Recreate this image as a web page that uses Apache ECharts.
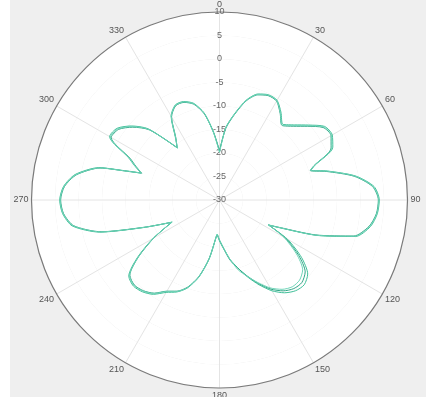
<!DOCTYPE html>
<html>
<head>
<meta charset="utf-8">
<script src="https://cdn.jsdelivr.net/npm/echarts@6/dist/echarts.min.js"></script>
<style>
html,body{margin:0;padding:0;background:#fff;}
#wrap{position:relative;width:426px;height:397px;background:#fff;overflow:hidden;}
#chart{position:absolute;left:10px;top:0;width:416px;height:397px;}
</style>
</head>
<body>
<div id="wrap"><div id="chart"></div></div>
<script>
const angles = [0,5,10,15,20,25,30,35,40,45,50,55,60,65,70,72,75,80,85,90,95,100,105,110,115,117,120,125,130,135,140,145,150,155,160,165,170,175,180,184,185,190,195,200,205,210,215,220,225,230,235,240,245,250,255,260,265,270,275,280,285,287,289,292,295,300,305,310,315,321,325,330,335,340,345,350,355,360];
const seriesA = [-19.7,-14.5,-11.3,-8.0,-6.0,-5.3,-5.5,-7.2,-9.0,-7.4,-5.2,-2.7,-2.3,-3.4,-8.4,-9.5,-6.2,-0.6,3.0,4.0,3.7,2.6,0.0,-8.0,-16.2,-18.4,-13.3,-8.7,-5.5,-4.5,-4.8,-5.9,-7.7,-10.1,-12.6,-15.1,-17.2,-19.7,-21.5,-22.7,-22.3,-17.2,-13.0,-10.1,-8.4,-7.3,-5.5,-4.5,-4.1,-4.8,-8.7,-13.7,-18.9,-12.9,-3.6,1.8,3.5,4.0,3.3,1.2,-3.4,-8.5,-12.3,-10.5,-8.6,-3.0,-3.4,-5.5,-8.6,-15.8,-13.6,-9.4,-7.7,-7.7,-8.7,-11.2,-15.5,-19.7];
const seriesB = [-19.5,-14.7,-11.5,-8.2,-6.2,-5.5,-5.7,-7.5,-9.3,-7.8,-5.6,-3.1,-2.6,-3.8,-8.6,-9.7,-6.5,-0.9,2.7,3.8,3.5,2.3,-0.4,-8.3,-16.4,-18.2,-13.8,-9.4,-6.2,-5.2,-5.4,-6.4,-8.1,-10.4,-12.8,-15.0,-17.0,-19.5,-21.3,-22.5,-22.1,-17.4,-13.2,-10.3,-8.6,-7.6,-5.8,-4.8,-4.4,-5.1,-9.0,-13.9,-18.7,-13.1,-3.9,1.5,3.3,3.8,3.1,0.9,-3.7,-8.8,-12.5,-10.8,-9.0,-3.4,-3.8,-5.9,-8.9,-15.6,-13.8,-9.6,-7.9,-7.9,-8.9,-11.4,-15.6,-19.5];
const seriesC = [-19.9,-14.6,-11.4,-8.1,-6.1,-5.4,-5.6,-7.4,-9.2,-7.6,-5.4,-2.9,-2.5,-3.6,-8.5,-9.6,-6.3,-0.7,2.8,3.9,3.6,2.4,-0.2,-8.1,-16.3,-18.3,-14.2,-10.0,-6.9,-5.9,-5.9,-6.8,-8.4,-10.6,-12.7,-14.6,-17.2,-19.6,-21.4,-22.6,-22.2,-17.3,-13.1,-10.2,-8.5,-7.5,-5.7,-4.7,-4.3,-5.0,-8.9,-13.8,-18.8,-13.0,-3.8,1.6,3.4,3.9,3.2,1.0,-3.6,-8.7,-12.4,-10.6,-8.8,-3.2,-3.6,-5.7,-8.8,-15.7,-13.7,-9.5,-7.8,-7.8,-8.8,-11.3,-15.7,-19.9];
const radiusTicks = {min:-30, max:10, step:5};
const angleTicks = {min:0, max:360, step:30};

function toPairs(vals){ return vals.map((v,i)=>[v, angles[i]]); }

const chart = echarts.init(document.getElementById('chart'));
const lineColors = ['#3fbf98','#2fa585','#6fd4b8'];
chart.setOption({
  backgroundColor:'#efefef',
  animation:false,
  polar:{center:[209.5,200], radius:188},
  angleAxis:{
    type:'value', min:angleTicks.min, max:angleTicks.max, interval:angleTicks.step,
    startAngle:90, clockwise:true,
    axisLine:{show:true, lineStyle:{color:'#7a7a7a', width:1.2}},
    axisTick:{show:false},
    axisLabel:{color:'#555', fontSize:9, fontFamily:'Liberation Sans', margin:3},
    splitLine:{show:true, lineStyle:{color:'#e4e4e4', width:1}}
  },
  radiusAxis:{
    type:'value', min:radiusTicks.min, max:radiusTicks.max, interval:radiusTicks.step,
    axisLine:{show:false}, axisTick:{show:false},
    axisLabel:{color:'#666', fontSize:9, fontFamily:'Liberation Sans', margin:0, align:'center', verticalAlign:'middle', showMaxLabel:true, showMinLabel:true},
    splitLine:{show:true, lineStyle:{color:'#e4e4e4', width:1}},
    splitArea:{show:true, areaStyle:{color:['#ffffff','#ffffff']}}
  },
  series:[
    {type:'line', coordinateSystem:'polar', data:toPairs(seriesA), showSymbol:false, smooth:0.25, lineStyle:{color:lineColors[0], width:1}},
    {type:'line', coordinateSystem:'polar', data:toPairs(seriesB), showSymbol:false, smooth:0.25, lineStyle:{color:lineColors[1], width:1}},
    {type:'line', coordinateSystem:'polar', data:toPairs(seriesC), showSymbol:false, smooth:0.25, lineStyle:{color:lineColors[2], width:1}}
  ]
});
</script>
</body>
</html>
